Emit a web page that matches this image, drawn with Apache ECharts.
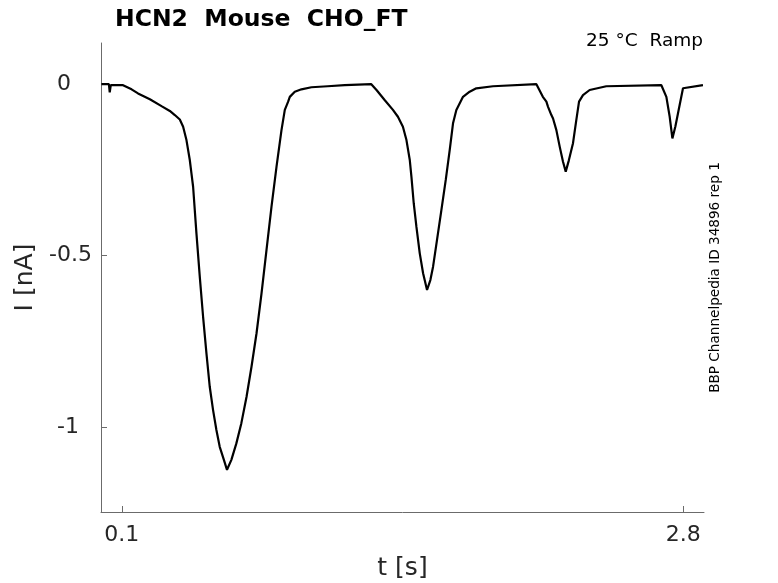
<!DOCTYPE html>
<html>
<head>
<meta charset="utf-8">
<script src="https://cdn.jsdelivr.net/npm/echarts@6/dist/echarts.min.js"></script>
<style>
html,body{margin:0;padding:0;background:#fff;}
#chart{width:778px;height:583px;}
</style>
</head>
<body>
<div id="chart"></div>
<script>
// time (s)
const timeS = [0.002,0.018,0.038,0.042,0.047,0.106,0.147,0.178,0.235,0.291,0.331,0.355,0.379,0.395,0.411,0.427,0.435,0.443,0.459,0.475,0.491,0.507,0.523,0.539,0.555,0.571,0.591,0.606,0.627,0.651,0.675,0.700,0.724,0.748,0.772,0.796,0.820,0.844,0.868,0.884,0.900,0.908,0.932,0.964,1.012,1.090,1.172,1.300,1.325,1.364,1.404,1.428,1.452,1.469,1.485,1.493,1.504,1.517,1.533,1.549,1.568,1.584,1.597,1.616,1.637,1.658,1.677,1.693,1.709,1.741,1.773,1.805,1.885,2.094,2.125,2.142,2.150,2.166,2.174,2.190,2.206,2.222,2.235,2.250,2.270,2.286,2.299,2.318,2.350,2.430,2.695,2.719,2.735,2.748,2.762,2.775,2.799,2.895];
// current (nA)
const currentNA = [0.000,0.000,0.000,-0.024,-0.003,-0.003,-0.015,-0.027,-0.044,-0.064,-0.078,-0.090,-0.103,-0.124,-0.163,-0.221,-0.260,-0.299,-0.435,-0.561,-0.678,-0.784,-0.882,-0.950,-1.008,-1.057,-1.095,-1.124,-1.095,-1.047,-0.988,-0.911,-0.823,-0.726,-0.610,-0.483,-0.357,-0.241,-0.134,-0.075,-0.051,-0.037,-0.022,-0.015,-0.009,-0.006,-0.003,0.000,-0.017,-0.046,-0.075,-0.095,-0.124,-0.163,-0.221,-0.270,-0.347,-0.416,-0.493,-0.551,-0.600,-0.571,-0.532,-0.454,-0.367,-0.279,-0.192,-0.114,-0.075,-0.037,-0.022,-0.012,-0.006,0.000,-0.037,-0.051,-0.066,-0.090,-0.100,-0.134,-0.182,-0.226,-0.255,-0.222,-0.172,-0.104,-0.051,-0.032,-0.017,-0.006,-0.003,-0.037,-0.095,-0.158,-0.124,-0.085,-0.012,-0.003];
const xTicks = [0.1, 2.8];
const yTicks = [0, -0.5, -1];
const titleText = 'HCN2  Mouse  CHO_FT';
const condText = '25 °C  Ramp';
const sideText = 'BBP Channelpedia ID 34896 rep 1';

const points = timeS.map((t, i) => [t, currentNA[i]]);
const chart = echarts.init(document.getElementById('chart'), null, {renderer: 'canvas'});
const axisColor = '#6b6b6b';
const labelColor = '#262626';
const font = 'DejaVu Sans';
const lbl = {fontFamily: font, fontSize: 22, color: labelColor};
chart.setOption({
  animation: false,
  backgroundColor: '#fff',
  grid: {left: 101, top: 43, width: 603, height: 469, outerBoundsMode: 'none', containLabel: false},
  xAxis: {
    type: 'value', min: 0, max: 2.9,
    name: 't [s]', nameLocation: 'middle', nameGap: 44,
    nameTextStyle: {fontFamily: font, fontSize: 25, color: labelColor},
    axisLine: {show: true, onZero: false, lineStyle: {color: axisColor, width: 1}},
    axisTick: {show: true, inside: true, length: 6, customValues: xTicks, lineStyle: {color: axisColor}},
    axisLabel: {customValues: xTicks, fontFamily: font, fontSize: 22, color: labelColor, margin: 12,
      formatter: v => String(v)},
    splitLine: {show: false}
  },
  yAxis: {
    type: 'value', min: -1.247, max: 0.12,
    name: 'I [nA]', nameLocation: 'middle', nameGap: 54, nameRotate: 90,
    nameTextStyle: {fontFamily: font, fontSize: 25, color: labelColor},
    axisLine: {show: true, onZero: false, lineStyle: {color: axisColor, width: 1}},
    axisTick: {show: true, inside: true, length: 6, customValues: yTicks, lineStyle: {color: axisColor}},
    axisLabel: {customValues: yTicks, fontFamily: font, fontSize: 22, color: labelColor, margin: 9,
      formatter: v => {
        const k = v === 0 ? 'z' : (v === -1 ? 'o' : 'h');
        return '{' + k + '|' + String(v) + '}';
      },
      rich: {
        z: Object.assign({padding: [0, 21, 0, 0]}, lbl),
        o: Object.assign({padding: [0, 13, 0, 0]}, lbl),
        h: Object.assign({}, lbl)
      }},
    splitLine: {show: false}
  },
  series: [{
    type: 'line', data: points, showSymbol: false, symbol: 'none',
    lineStyle: {color: '#000', width: 2.2}, clip: true
  }],
  graphic: [
    {type: 'text', left: 115, top: 8, style: {text: titleText, font: 'bold 23.5px "DejaVu Sans"', fill: '#000'}},
    {type: 'text', x: 703, y: 41.5, style: {text: condText, font: '18.5px "DejaVu Sans"', fill: '#000', align: 'right', verticalAlign: 'middle'}},
    {type: 'text', x: 715, y: 277.5, rotation: Math.PI / 2, style: {text: sideText, font: '13.6px "DejaVu Sans"', fill: '#000', align: 'center', verticalAlign: 'middle'}}
  ]
});
</script>
</body>
</html>
